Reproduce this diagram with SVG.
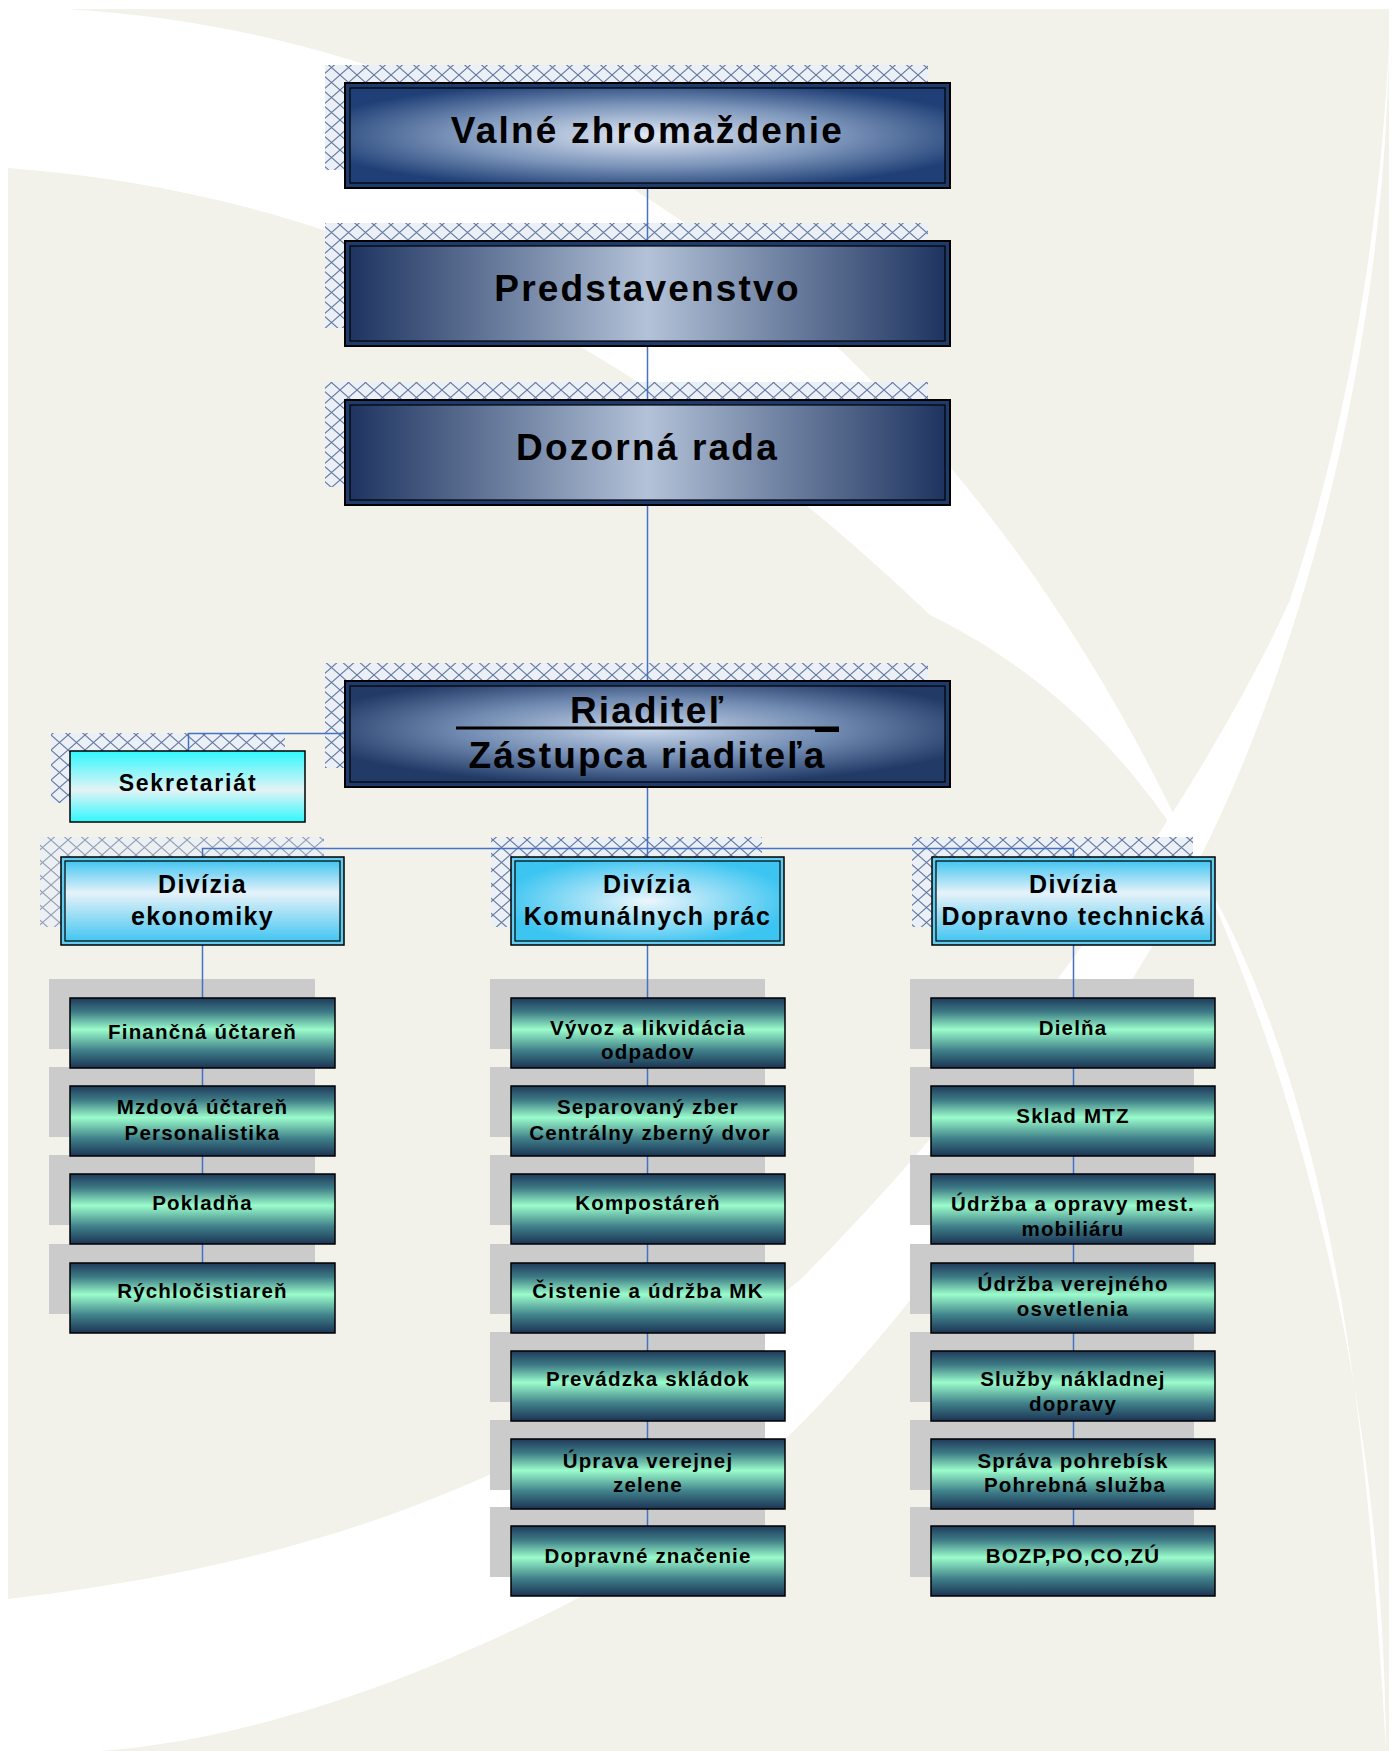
<svg xmlns="http://www.w3.org/2000/svg" width="1392" height="1751" viewBox="0 0 1392 1751">
<defs>
<pattern id="hatch" width="17" height="15" patternUnits="userSpaceOnUse">
<rect width="17" height="15" fill="#ebeff6"/>
<path d="M0 0 L17 15 M17 0 L0 15" stroke="#6479a0" stroke-width="1.1" fill="none"/>
</pattern>
<radialGradient id="gBox1" cx="50%" cy="50%" r="58%">
<stop offset="0%" stop-color="#e2e9f4"/>
<stop offset="55%" stop-color="#7d96bb"/>
<stop offset="100%" stop-color="#1f3f76"/>
</radialGradient>
<linearGradient id="gBoxH" x1="0" y1="0" x2="1" y2="0">
<stop offset="0%" stop-color="#1e3460"/>
<stop offset="50%" stop-color="#b3c2d8"/>
<stop offset="100%" stop-color="#1e3460"/>
</linearGradient>
<radialGradient id="gBox4" cx="50%" cy="45%" r="58%">
<stop offset="0%" stop-color="#c9d8ec"/>
<stop offset="55%" stop-color="#6f89b0"/>
<stop offset="100%" stop-color="#213a66"/>
</radialGradient>
<linearGradient id="gSek" x1="0" y1="0" x2="0" y2="1">
<stop offset="0%" stop-color="#2ef8fd"/>
<stop offset="55%" stop-color="#e4f3f5"/>
<stop offset="100%" stop-color="#2ef8fd"/>
</linearGradient>
<linearGradient id="gDiv" x1="0" y1="0" x2="0" y2="1">
<stop offset="0%" stop-color="#44c6f1"/>
<stop offset="40%" stop-color="#e6f2f9"/>
<stop offset="100%" stop-color="#44c6f1"/>
</linearGradient>
<radialGradient id="gDivR" cx="50%" cy="50%" r="55%">
<stop offset="0%" stop-color="#eef6fb"/>
<stop offset="100%" stop-color="#3cc5f1"/>
</radialGradient>
<linearGradient id="gChild" x1="0" y1="0" x2="0" y2="1">
<stop offset="0%" stop-color="#1f3a5a"/>
<stop offset="20%" stop-color="#3d7b86"/>
<stop offset="45%" stop-color="#9bfccb"/>
<stop offset="75%" stop-color="#3f808a"/>
<stop offset="100%" stop-color="#1c3454"/>
</linearGradient>
<style>
.bg{fill:#f2f2eb}
.sw{fill:#ffffff}
.hatch{fill:url(#hatch)}
.gray{fill:#cbcbcb}
.con{stroke:#4472c4;stroke-width:1.5;fill:none}
.outer{fill:#1f3b6c;stroke:#000;stroke-width:2}
.innerline{stroke:#000;stroke-width:1.2}
.divout{fill:#5fcdf2;stroke:#000;stroke-width:1.5}
.child{fill:url(#gChild);stroke:#000;stroke-width:1.5}
.t{font-family:"Liberation Sans",Arial,sans-serif;font-weight:bold;fill:#000;text-anchor:middle}
.big{font-size:37px;letter-spacing:2.2px}
.mid{font-size:25px;letter-spacing:1.4px}
.sm{font-size:20.5px;letter-spacing:1.2px}
</style>
</defs>

<g id="background">
<rect x="0" y="0" width="1392" height="1751" fill="#ffffff"/>
<rect class="bg" x="8" y="9" width="1381" height="1742"/>
<path class="sw" d="M8 9 L67 9 C900 60 1380 900 1386 1751 C1360 1300 1310 800 930 615 C600 300 300 190 8 168 Z"/>
<path class="sw" d="M1389 40 C1385 350 1300 700 1150 950 C1000 1200 800 1480 580 1597 C420 1680 250 1740 100 1751 L8 1751 L8 1599 C250 1570 520 1510 800 1280 C1000 1080 1200 800 1290 600 C1340 450 1380 250 1389 40 Z"/>
</g>

<g id="shadows">
<rect class="hatch" x="325" y="65" width="603" height="105"/>
<rect class="hatch" x="325" y="223" width="603" height="105"/>
<rect class="hatch" x="325" y="382" width="603" height="105"/>
<rect class="hatch" x="325" y="663" width="603" height="105"/>
<rect class="hatch" x="51" y="733" width="234" height="70"/>
<rect class="hatch" x="40" y="837" width="284" height="90" opacity="0.7"/>
<rect class="hatch" x="491" y="837" width="271" height="90"/>
<rect class="hatch" x="912" y="837" width="281" height="90"/>
<rect class="gray" x="49" y="979" width="266" height="70"/>
<rect class="gray" x="49" y="1067" width="266" height="70"/>
<rect class="gray" x="49" y="1155" width="266" height="70"/>
<rect class="gray" x="49" y="1244" width="266" height="70"/>
<rect class="gray" x="490" y="979" width="275" height="70"/>
<rect class="gray" x="490" y="1067" width="275" height="70"/>
<rect class="gray" x="490" y="1155" width="275" height="70"/>
<rect class="gray" x="490" y="1244" width="275" height="70"/>
<rect class="gray" x="490" y="1332" width="275" height="70"/>
<rect class="gray" x="490" y="1420" width="275" height="70"/>
<rect class="gray" x="490" y="1507" width="275" height="70"/>
<rect class="gray" x="910" y="979" width="284" height="70"/>
<rect class="gray" x="910" y="1067" width="284" height="70"/>
<rect class="gray" x="910" y="1155" width="284" height="70"/>
<rect class="gray" x="910" y="1244" width="284" height="70"/>
<rect class="gray" x="910" y="1332" width="284" height="70"/>
<rect class="gray" x="910" y="1420" width="284" height="70"/>
<rect class="gray" x="910" y="1507" width="284" height="70"/>
</g>

<g id="connectors">
<path class="con" d="M647.5 188 V857"/>
<path class="con" d="M345 733.5 H188.5 V751"/>
<path class="con" d="M202.5 857 V848.5 H1073.5 V857"/>
<path class="con" d="M202.5 945 V1314"/>
<path class="con" d="M647.5 945 V1526"/>
<path class="con" d="M1073.5 945 V1526"/>
</g>

<g id="n-valne">
<rect class="outer" x="345" y="83" width="605" height="105"/>
<rect class="innerline" x="350" y="88" width="595" height="95" fill="url(#gBox1)"/>
<text class="t big" x="647.5" y="143">Valné zhromaždenie</text>
</g>
<g id="n-predstavenstvo">
<rect class="outer" x="345" y="241" width="605" height="105"/>
<rect class="innerline" x="350" y="246" width="595" height="95" fill="url(#gBoxH)"/>
<text class="t big" x="647.5" y="301">Predstavenstvo</text>
</g>
<g id="n-dozorna">
<rect class="outer" x="345" y="400" width="605" height="105"/>
<rect class="innerline" x="350" y="405" width="595" height="95" fill="url(#gBoxH)"/>
<text class="t big" x="647.5" y="460">Dozorná rada</text>
</g>
<g id="n-riaditel">
<rect class="outer" x="345" y="681" width="605" height="106"/>
<rect class="innerline" x="350" y="686" width="595" height="96" fill="url(#gBox4)"/>
<text class="t big" x="647.5" y="723">Riaditeľ</text>
<rect x="456" y="726.5" width="383" height="3" fill="#000"/>
<rect x="815" y="727" width="24" height="5" fill="#000"/>
<text class="t big" x="647.5" y="768">Zástupca riaditeľa</text>
</g>
<g id="n-sekretariat">
<rect x="70" y="751" width="235" height="71" fill="url(#gSek)" stroke="#000" stroke-width="1.5"/>
<text class="t" x="188" y="790.5" font-size="23" letter-spacing="1.8">Sekretariát</text>
</g>

<g id="n-div-eko">
<rect class="divout" x="61" y="857" width="283" height="88"/>
<rect class="innerline" x="65" y="861" width="275" height="80" fill="url(#gDiv)"/>
<text class="t mid" x="202.5" y="893">Divízia</text>
<text class="t mid" x="202.5" y="924.5">ekonomiky</text>
</g>
<g id="n-div-kom">
<rect class="divout" x="511" y="857" width="273" height="88"/>
<rect class="innerline" x="515" y="861" width="265" height="80" fill="url(#gDivR)"/>
<text class="t mid" x="647.5" y="893">Divízia</text>
<text class="t mid" x="647.5" y="924.5">Komunálnych prác</text>
</g>
<g id="n-div-dop">
<rect class="divout" x="932" y="857" width="283" height="88"/>
<rect class="innerline" x="936" y="861" width="275" height="80" fill="url(#gDiv)"/>
<text class="t mid" x="1073.5" y="893">Divízia</text>
<text class="t mid" x="1073.5" y="924.5">Dopravno technická</text>
</g>

<g id="n-fin"><rect class="child" x="70" y="998" width="265" height="70"/><text class="t sm" x="202.5" y="1039">Finančná účtareň</text></g>
<g id="n-mzd"><rect class="child" x="70" y="1086" width="265" height="70"/><text class="t sm" x="202.5" y="1113.5">Mzdová účtareň</text><text class="t sm" x="202.5" y="1139.5">Personalistika</text></g>
<g id="n-pok"><rect class="child" x="70" y="1174" width="265" height="70"/><text class="t sm" x="202.5" y="1209.5">Pokladňa</text></g>
<g id="n-ryc"><rect class="child" x="70" y="1263" width="265" height="70"/><text class="t sm" x="202.5" y="1298">Rýchločistiareň</text></g>

<g id="n-vyv"><rect class="child" x="511" y="998" width="274" height="70"/><text class="t sm" x="648" y="1034.5">Vývoz a likvidácia</text><text class="t sm" x="648" y="1059">odpadov</text></g>
<g id="n-sep"><rect class="child" x="511" y="1086" width="274" height="70"/><text class="t sm" x="648" y="1113.5">Separovaný zber</text><text class="t sm" x="650" y="1139.5">Centrálny zberný dvor</text></g>
<g id="n-kom"><rect class="child" x="511" y="1174" width="274" height="70"/><text class="t sm" x="648" y="1209.5">Kompostáreň</text></g>
<g id="n-cis"><rect class="child" x="511" y="1263" width="274" height="70"/><text class="t sm" x="648" y="1298">Čistenie a údržba MK</text></g>
<g id="n-pre"><rect class="child" x="511" y="1351" width="274" height="70"/><text class="t sm" x="648" y="1386">Prevádzka skládok</text></g>
<g id="n-upr"><rect class="child" x="511" y="1439" width="274" height="70"/><text class="t sm" x="648" y="1467.5">Úprava verejnej</text><text class="t sm" x="648" y="1492">zelene</text></g>
<g id="n-dop"><rect class="child" x="511" y="1526" width="274" height="70"/><text class="t sm" x="648" y="1562.5">Dopravné značenie</text></g>

<g id="n-die"><rect class="child" x="931" y="998" width="284" height="70"/><text class="t sm" x="1073" y="1034.5">Dielňa</text></g>
<g id="n-skl"><rect class="child" x="931" y="1086" width="284" height="70"/><text class="t sm" x="1073" y="1122.5">Sklad MTZ</text></g>
<g id="n-udr"><rect class="child" x="931" y="1174" width="284" height="70"/><text class="t sm" x="1073" y="1210.5">Údržba a opravy mest.</text><text class="t sm" x="1073" y="1235.5">mobiliáru</text></g>
<g id="n-osv"><rect class="child" x="931" y="1263" width="284" height="70"/><text class="t sm" x="1073" y="1291">Údržba verejného</text><text class="t sm" x="1073" y="1315.5">osvetlenia</text></g>
<g id="n-slu"><rect class="child" x="931" y="1351" width="284" height="70"/><text class="t sm" x="1073" y="1386">Služby nákladnej</text><text class="t sm" x="1073" y="1410.5">dopravy</text></g>
<g id="n-spr"><rect class="child" x="931" y="1439" width="284" height="70"/><text class="t sm" x="1073" y="1467.5">Správa pohrebísk</text><text class="t sm" x="1075" y="1492">Pohrebná služba</text></g>
<g id="n-boz"><rect class="child" x="931" y="1526" width="284" height="70"/><text class="t sm" x="1073" y="1562.5">BOZP,PO,CO,ZÚ</text></g>
</svg>
